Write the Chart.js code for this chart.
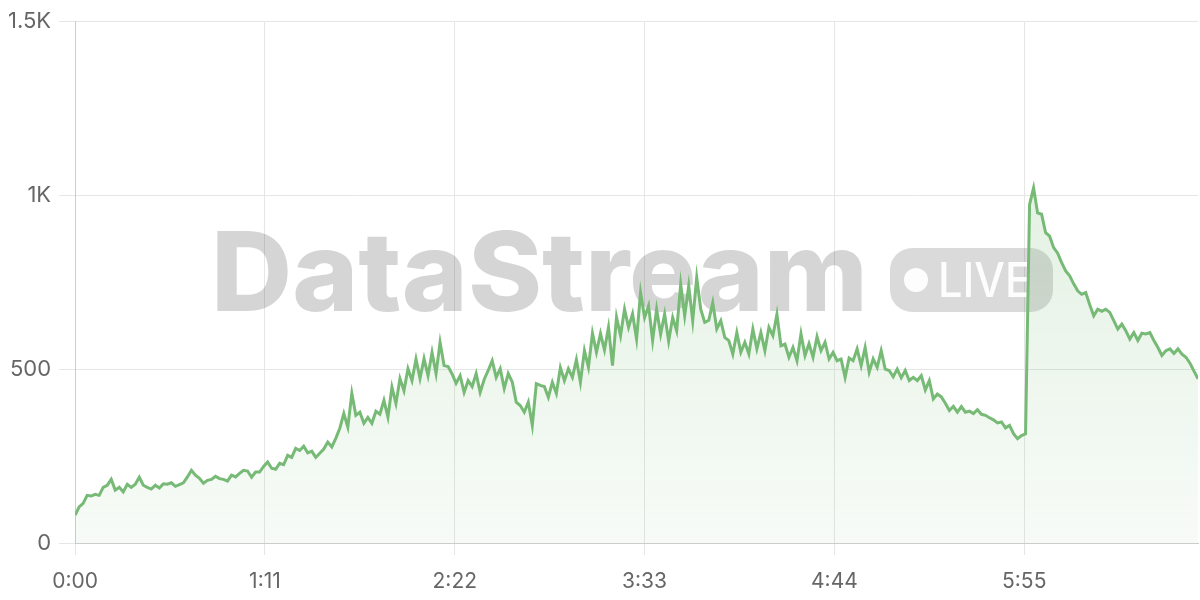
<!DOCTYPE html>
<html>
<head>
<meta charset="utf-8">
<title>DataStream LIVE</title>
<script src="https://cdn.jsdelivr.net/npm/chart.js@4.4.1/dist/chart.umd.min.js"></script>
<style>
  html, body { margin: 0; padding: 0; background: #fff; }
  #wrap { width: 1200px; height: 600px; }
</style>
</head>
<body>
<div id="wrap"><canvas id="viewersChart" width="1200" height="600"></canvas></div>
<script>
// Datos del gráfico
const STEP_SECONDS = 1.5;
const X_MAX_SECONDS = 420;
const xTickSeconds = [0, 71, 142, 213, 284, 355];
const yTickValues = [0, 500, 1000, 1500];
const yTickLabels = ['0', '500', '1K', '1.5K'];

// Espectadores, una lectura cada 1.5 s
const viewers = [
  80, 104, 114, 137, 135, 140, 137, 160, 166, 183,
  152, 160, 147, 169, 160, 169, 189, 166, 160, 155,
  166, 158, 170, 169, 173, 163, 168, 173, 190, 209,
  195, 186, 172, 180, 183, 192, 185, 183, 178, 195,
  190, 200, 209, 207, 189, 204, 204, 220, 233, 215,
  212, 229, 225, 252, 246, 272, 266, 278, 259, 264,
  246, 258, 270, 290, 276, 301, 330, 372, 333, 430,
  367,
  376, 344, 361, 344, 379, 370, 410, 362, 448, 401,
  473, 438, 501, 467, 529, 473, 530, 481, 548, 487,
  577, 510, 507, 486, 459, 481, 433, 467, 450, 487,
  433, 470, 496, 524, 476, 501, 444, 487, 463, 405,
  395, 376, 405, 338, 458, 453, 450, 419, 462, 430,
  504, 467, 501, 476, 527, 462, 553, 505, 603, 548,
  602, 555, 620, 510, 649, 596, 672, 620, 659, 586,
  720, 648,
  682, 582, 672, 600, 658, 580, 648, 610, 744, 653,
  739, 639, 763, 672, 634, 640, 691, 615, 639, 591,
  582, 543, 605, 548, 577, 543, 615, 558, 605, 553,
  620, 596, 658, 567, 572, 534, 562, 524, 601, 539,
  573, 534, 593, 553, 577, 529, 548, 524, 529, 476,
  532, 524, 558, 510, 562, 491, 529, 505, 553, 500,
  496, 478, 500, 475, 496, 467, 476, 467, 481, 440,
  467, 414, 428, 420, 402, 381, 393, 376, 392, 376,
  379, 372, 383, 370, 367, 360, 354, 345, 348, 331,
  338, 314, 300, 309, 314, 973, 1021, 949, 945, 892,
  882, 849, 833, 806, 782, 768, 745, 725, 715, 720,
  685, 653, 672, 666, 672, 663, 639, 615, 629, 610,
  586, 605, 582, 603, 601, 605, 582, 562, 539, 553,
  558, 545, 558, 543, 534, 517, 494, 472
];

const points = viewers.map((v, i) => ({ x: i * STEP_SECONDS, y: v }));

// Formato m:ss
function formatTime(sec) {
  const m = Math.floor(sec / 60);
  const s = Math.round(sec % 60);
  return m + ':' + String(s).padStart(2, '0');
}

// Marca de agua "DataStream LIVE"
const watermark = {
  id: 'watermark',
  beforeDatasetsDraw(chart) {
    const ctx = chart.ctx;
    ctx.save();

    // texto grande
    ctx.fillStyle = 'rgba(0, 0, 0, 0.165)';
    ctx.font = '800 110px Inter';
    ctx.textBaseline = 'alphabetic';
    const w = ctx.measureText('DataStream').width;
    ctx.save();
    ctx.translate(211, 311);
    ctx.scale(657 / w, 1);
    ctx.fillText('DataStream', 0, 0);
    ctx.restore();

    // pastilla LIVE
    const px = 890, py = 248, pw = 163, ph = 64, r = 22;
    ctx.fillStyle = 'rgba(0, 0, 0, 0.145)';
    ctx.beginPath();
    ctx.moveTo(px + r, py);
    ctx.lineTo(px + pw - r, py);
    ctx.arcTo(px + pw, py, px + pw, py + r, r);
    ctx.lineTo(px + pw, py + ph - r);
    ctx.arcTo(px + pw, py + ph, px + pw - r, py + ph, r);
    ctx.lineTo(px + r, py + ph);
    ctx.arcTo(px, py + ph, px, py + ph - r, r);
    ctx.lineTo(px, py + r);
    ctx.arcTo(px, py, px + r, py, r);
    ctx.closePath();
    ctx.fill();

    ctx.fillStyle = 'rgba(255, 255, 255, 0.95)';
    ctx.beginPath();
    ctx.arc(916, 280, 12, 0, Math.PI * 2);
    ctx.fill();

    ctx.font = '500 48px Inter';
    const lw = ctx.measureText('LIVE').width;
    ctx.translate(938, 297);
    ctx.scale(93 / lw, 1);
    ctx.fillText('LIVE', 0, 0);

    ctx.restore();
  }
};

const ctx = document.getElementById('viewersChart').getContext('2d');

new Chart(ctx, {
  type: 'line',
  data: {
    datasets: [{
      label: 'Viewers',
      data: points,
      borderColor: '#76ba76',
      borderWidth: 3,
      pointRadius: 0,
      tension: 0,
      fill: 'origin',
      backgroundColor: function(context) {
        const area = context.chart.chartArea;
        if (!area) return 'rgba(118, 186, 118, 0.12)';
        const g = context.chart.ctx.createLinearGradient(0, area.top, 0, area.bottom);
        g.addColorStop(0, 'rgba(118, 186, 118, 0.26)');
        g.addColorStop(1, 'rgba(118, 186, 118, 0.06)');
        return g;
      }
    }]
  },
  options: {
    responsive: false,
    animation: false,
    devicePixelRatio: 1,
    layout: { padding: { top: 10, right: 2, left: 0, bottom: -8 } },
    plugins: {
      legend: { display: false },
      tooltip: { enabled: false }
    },
    scales: {
      x: {
        type: 'linear',
        min: 0,
        max: X_MAX_SECONDS,
        afterBuildTicks: axis => { axis.ticks = xTickSeconds.map(v => ({ value: v })); },
        ticks: {
          autoSkip: false,
          maxRotation: 0,
          padding: 16,
          color: '#666',
          font: { family: 'Inter', size: 21, lineHeight: 1 },
          callback: value => formatTime(value)
        },
        grid: { color: '#e6e6e6', tickLength: 12 },
        border: { color: '#cccccc' }
      },
      y: {
        min: 0,
        max: 1500,
        afterBuildTicks: axis => { axis.ticks = yTickValues.map(v => ({ value: v })); },
        ticks: {
          padding: 8,
          color: '#666',
          font: { family: 'Inter', size: 22 },
          callback: value => yTickLabels[yTickValues.indexOf(value)]
        },
        grid: { color: '#e6e6e6', tickLength: 16 },
        border: { color: '#cccccc' }
      }
    }
  },
  plugins: [watermark]
});
</script>
</body>
</html>
